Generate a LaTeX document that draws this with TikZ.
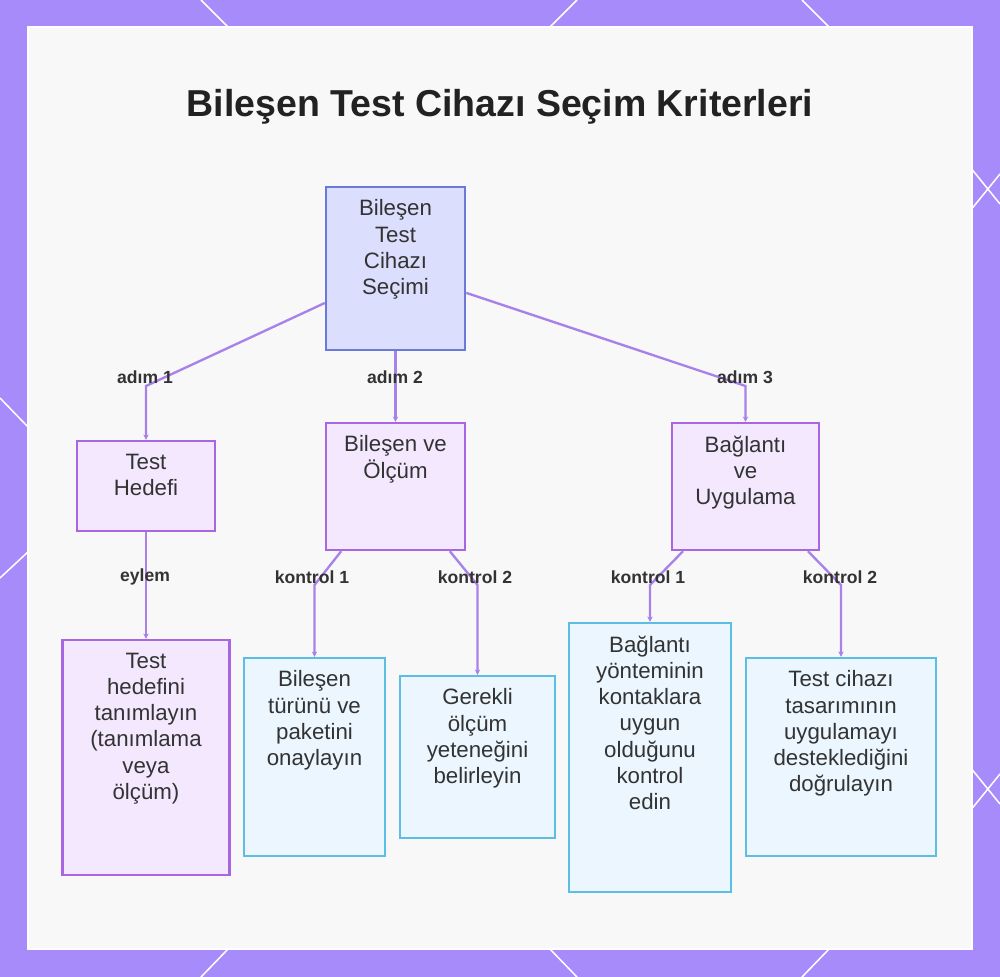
\documentclass[tikz,border=0pt]{standalone}
\usepackage{fontspec}
\setmainfont{Liberation Sans}
\usetikzlibrary{arrows.meta,positioning}
\definecolor{frameviolet}{RGB}{167,139,250}
\definecolor{panelgray}{RGB}{248,248,249}
\definecolor{inkgray}{RGB}{51,51,51}
\definecolor{titleink}{RGB}{34,34,34}
\definecolor{rootfill}{RGB}{219,222,252}
\definecolor{rootline}{RGB}{106,122,214}
\definecolor{stepfill}{RGB}{243,232,253}
\definecolor{stepline}{RGB}{168,102,226}
\definecolor{checkfill}{RGB}{235,246,254}
\definecolor{checkline}{RGB}{92,190,226}
\definecolor{linkviolet}{RGB}{168,130,232}

\begin{document}
\begin{tikzpicture}[
  x=0.3mm, y=-0.3mm,
  >={Stealth[length=1.6mm, width=1.6mm]},
  every node/.style={text=inkgray},
  txt/.style={font=\fontsize{19}{22.4}\selectfont, align=center, inner sep=0pt, execute at begin node=\strut},
  rootbox/.style={draw=rootline, fill=rootfill, line width=2pt},
  stepbox/.style={draw=stepline, fill=stepfill, line width=2pt},
  checkbox/.style={draw=checkline, fill=checkfill, line width=2pt},
  tag/.style={font=\bfseries\fontsize{15}{18}\selectfont},
  link/.style={->, draw=linkviolet, line width=2pt},
  deco/.style={draw=white, line width=1.3pt}
]

\useasboundingbox (0,0) rectangle (1000,977);
\fill[frameviolet] (0,0) rectangle (1000,977);
\draw[deco] (201,0) -- (230,29);
\draw[deco] (577,0) -- (548,29);
\draw[deco] (802,0) -- (831,29);
\draw[deco] (230,947) -- (201,977);
\draw[deco] (548,947) -- (577,977);
\draw[deco] (831,947) -- (802,977);
\draw[deco] (0,398) -- (30,429);
\draw[deco] (30,550) -- (0,578);
\draw[deco] (970,167) -- (1000,204);
\draw[deco] (970,211) -- (1000,174);
\draw[deco] (970,767) -- (1000,804);
\draw[deco] (970,811) -- (1000,774);
\filldraw[fill=panelgray, draw=white, line width=1pt] (28,27) rectangle (972,949);

\node[font=\bfseries\fontsize{32}{38}\selectfont, text=titleink] (title) at (500,107) {Bileşen Test Cihazı Seçim Kriterleri};

\node[rootbox, minimum width=41.7mm, minimum height=48.9mm] (root) at (395.5,268.5) {};
\node[stepbox, minimum width=41.4mm, minimum height=27mm] (hedef) at (146,486) {};
\node[stepbox, minimum width=41.7mm, minimum height=38.1mm] (olcum) at (395.5,486.5) {};
\node[stepbox, minimum width=44.1mm, minimum height=38.1mm] (baglanti) at (745.5,486.5) {};
\node[stepbox, minimum width=50.1mm, minimum height=70.5mm] (tanim) at (146,757.5) {};
\node[checkbox, minimum width=42.3mm, minimum height=59.4mm] (tur) at (314.5,757) {};
\node[checkbox, minimum width=46.5mm, minimum height=48.6mm] (yetenek) at (477.5,757) {};
\node[checkbox, minimum width=48.6mm, minimum height=80.7mm] (yontem) at (650,757.5) {};
\node[checkbox, minimum width=57mm, minimum height=59.4mm] (tasarim) at (841,757) {};

\node[txt, below=4.1mm of root.north] (rootT) {Bileşen\\Test\\Cihazı\\Seçimi};
\node[txt, below=4.1mm of hedef.north] (hedefT) {Test\\Hedefi};
\node[txt, below=4.1mm of olcum.north] (olcumT) {Bileşen ve\\Ölçüm};
\node[txt, below=4.1mm of baglanti.north] (baglantiT) {Bağlantı\\ve\\Uygulama};
\node[txt, below=4.1mm of tanim.north] (tanimT) {Test\\hedefini\\tanımlayın\\(tanımlama\\veya\\ölçüm)};
\node[txt, below=4.1mm of tur.north] (turT) {Bileşen\\türünü ve\\paketini\\onaylayın};
\node[txt, below=4.1mm of yetenek.north] (yetenekT) {Gerekli\\ölçüm\\yeteneğini\\belirleyin};
\node[txt, below=4.1mm of yontem.north] (yontemT) {Bağlantı\\yönteminin\\kontaklara\\uygun\\olduğunu\\kontrol\\edin};
\node[txt, below=4.1mm of tasarim.north] (tasarimT) {Test cihazı\\tasarımının\\uygulamayı\\desteklediğini\\doğrulayın};

\coordinate (b1) at (146,386);
\coordinate (b3) at (745.5,386);
\coordinate (c1) at (314.5,585);
\coordinate (c2) at (477.5,585);
\coordinate (c3) at (650,585);
\coordinate (c4) at (841,585);

\draw[link] (root.206) -- (b1) -- (hedef);
\draw[link] (root) -- (olcum);
\draw[link] (root.-19) -- (b3) -- (baglanti);
\draw[link] (hedef) -- (tanim);
\draw[link] (olcum.230) -- (c1) -- (tur);
\draw[link] (olcum.310) -- (c2) -- (yetenek);
\draw[link] (baglanti.226) -- (c3) -- (yontem);
\draw[link] (baglanti.314) -- (c4) -- (tasarim);

\node[tag] (s1) at (145,377) {adım 1};
\node[tag] (s2) at (395,377) {adım 2};
\node[tag] (s3) at (745,377) {adım 3};
\node[tag] (e1) at (145,577) {eylem};
\node[tag] (k1) at (312,577) {kontrol 1};
\node[tag] (k2) at (475,577) {kontrol 2};
\node[tag] (k3) at (648,577) {kontrol 1};
\node[tag] (k4) at (840,577) {kontrol 2};

\end{tikzpicture}
\end{document}
